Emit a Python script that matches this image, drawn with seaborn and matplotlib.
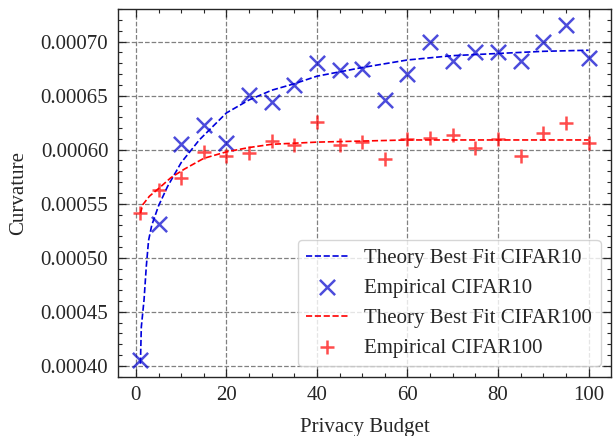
import numpy as np
import pandas as pd
import matplotlib
matplotlib.use("Agg")
import matplotlib.pyplot as plt
from matplotlib.ticker import MultipleLocator
import seaborn as sns

# Empirical curvature per privacy budget
budget = [1, 5, 10, 15, 20, 25, 30, 35, 40, 45, 50, 55, 60, 65, 70, 75, 80, 85, 90, 95, 100]
emp_cifar10 = [0.000405, 0.000531, 0.000605, 0.000623, 0.0006065, 0.000651, 0.000644,
               0.000660, 0.000680, 0.000674, 0.000675, 0.000646, 0.000670, 0.000700,
               0.000682, 0.000690, 0.000690, 0.000682, 0.000700, 0.000715, 0.000685]
emp_cifar100 = [0.000541, 0.000563, 0.0005735, 0.000598, 0.000594, 0.000597, 0.000608,
                0.000604, 0.000626, 0.000604, 0.000607, 0.000591, 0.000610, 0.000611,
                0.000614, 0.000602, 0.000610, 0.000594, 0.000615, 0.000625, 0.0006065]

# Theory best-fit curves
fit10_x = [1.0, 1.2, 1.8, 2.3, 2.8, 3.5, 5, 7, 10, 14, 20, 25, 30, 35, 40, 45, 50, 60, 70, 80, 90, 100]
fit10_y = [0.000402, 0.000436, 0.000461, 0.000492, 0.000516, 0.000530, 0.000548, 0.000566,
           0.000588, 0.000609, 0.000634, 0.000646, 0.000655, 0.000661, 0.000668, 0.000672,
           0.000676, 0.000683, 0.000687, 0.000689, 0.000691, 0.000692]
fit100_x = [1.0, 1.5, 3, 5, 7.7, 10.7, 15, 20, 25, 30, 40, 50, 60, 70, 80, 90, 100]
fit100_y = [0.000541, 0.000549, 0.000557, 0.000564, 0.000574, 0.000582, 0.000592, 0.000598,
            0.000602, 0.000605, 0.000607, 0.000608, 0.000609, 0.000609, 0.000609, 0.000609,
            0.000609]

sns.set_theme(style="ticks")
plt.rcParams["font.family"] = ["Liberation Serif", "DejaVu Serif"]
plt.rcParams["font.size"] = 15

emp = pd.DataFrame({"budget": budget, "c10": emp_cifar10, "c100": emp_cifar100})
fit10 = pd.DataFrame({"x": fit10_x, "y": fit10_y})
fit100 = pd.DataFrame({"x": fit100_x, "y": fit100_y})

fig = plt.figure(figsize=(6.13, 4.36), dpi=100)
ax = fig.add_axes([0.1925, 0.136, 0.8042, 0.843])

sns.lineplot(data=fit10, x="x", y="y", ax=ax, color="#0000dd", linestyle="--", lw=1.2,
             estimator=None, sort=False, label="Theory Best Fit CIFAR10")
sns.scatterplot(data=emp, x="budget", y="c10", ax=ax, marker="x", color="#0000cc",
                s=120, linewidth=1.8, alpha=0.7, label="Empirical CIFAR10")
sns.lineplot(data=fit100, x="x", y="y", ax=ax, color="red", linestyle="--", lw=1.2,
             estimator=None, sort=False, label="Theory Best Fit CIFAR100")
sns.scatterplot(data=emp, x="budget", y="c100", ax=ax, marker="+", color="red",
                s=110, linewidth=1.8, alpha=0.7, label="Empirical CIFAR100")

ax.set_xlim(-3.95, 104.95)
ax.set_ylim(0.00039, 0.00073)
ax.xaxis.set_major_locator(MultipleLocator(20))
ax.xaxis.set_minor_locator(MultipleLocator(5))
ax.yaxis.set_major_locator(MultipleLocator(0.00005))
ax.yaxis.set_minor_locator(MultipleLocator(0.00001))
ax.yaxis.set_major_formatter(matplotlib.ticker.FormatStrFormatter("%.5f"))
ax.tick_params(which="both", direction="in", top=True, right=True, labelsize=15, pad=7)
ax.tick_params(which="major", length=6, width=0.9)
ax.tick_params(which="minor", length=3, width=0.8)
for s in ax.spines.values():
    s.set_linewidth(1.0)
ax.grid(True, which="major", linestyle="--", color="gray", linewidth=0.9)

ax.set_xlabel("Privacy Budget", fontsize=15, labelpad=9)
ax.set_ylabel("Curvature", fontsize=15, labelpad=9)

ax.legend(loc="lower right", fontsize=15, frameon=True, fancybox=True, edgecolor="#cccccc",
          framealpha=0.8)

fig.savefig("out.png", dpi=100)
